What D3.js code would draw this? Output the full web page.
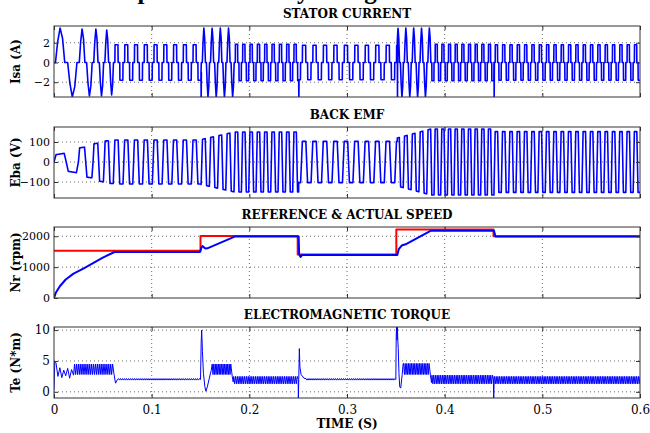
<!DOCTYPE html>
<html>
<head>
<meta charset="utf-8">
<script src="https://cdn.jsdelivr.net/npm/d3@7"></script>
<style>
  body { margin: 0; background: #fff; }
  svg { display: block; }
  .tick text { font-family: "DejaVu Serif", serif; font-size: 11px; fill: #000; }
  .ptitle { font-family: "DejaVu Serif", serif; font-weight: bold; font-size: 12px; text-anchor: middle; }
  .ylab { font-family: "DejaVu Serif", serif; font-weight: bold; font-size: 12px; text-anchor: middle; }
</style>
</head>
<body>
<svg id="chart" width="650" height="433"></svg>
<script>
// --- axes / text ---
const TIME_TICKS = [0, 0.1, 0.2, 0.3, 0.4, 0.5, 0.6];
const PANEL_TITLES = ["STATOR CURRENT", "BACK EMF", "REFERENCE & ACTUAL SPEED", "ELECTROMAGNETIC TORQUE"];
const PANEL_YLABELS = ["Isa (A)", "Eba (V)", "Nr (rpm)", "Te (N*m)"];
const Y_DOMAINS = [[-3.5, 3.7], [-180, 175], [0, 2300], [-1, 10.5]];
const Y_TICKS = [[-2, 0, 2], [-100, 0, 100], [0, 1000, 2000], [0, 5, 10]];

// --- electrical cycles (start, end, number of cycles) ---
const CYC_T0 = [0, 0.025, 0.040, 0.0515, 0.0615, 0.1505, 0.185, 0.2505, 0.3515, 0.386, 0.4505];
const CYC_T1 = [0.025, 0.040, 0.0515, 0.0615, 0.1505, 0.185, 0.2505, 0.3515, 0.386, 0.4505, 0.6];
const CYC_N  = [1, 1, 1, 1, 8.9, 4.1, 8.73, 9.43, 4.3, 9.46, 19.93];

// back emf amplitude at start / end of each cycle group (V)
const EMF_A0 = [35, 70, 90, 105, 110, 112, 150, 103, 120, 165, 152];
const EMF_A1 = [55, 80, 100, 108, 110, 150, 150, 103, 165, 165, 152];
// stator current peak per group (A) and whether it is an accelerating group
const CUR_A   = [3.5, 3.4, 3.4, 3.3, 1.8, 3.5, 1.85, 1.75, 3.5, 1.85, 1.8];
const CUR_ACC = [1, 1, 1, 1, 0, 1, 0, 0, 1, 0, 0];

// one cycle of each waveform (phase 0..1)
const EMF_SHAPE_P = [0, 1/12, 5/12, 7/12, 11/12, 1];
const EMF_SHAPE_V = [0, 1, 1, -1, -1, 0];
const CUR_SHAPE_P = [0, 0.083, 0.1, 0.4, 0.417, 0.583, 0.6, 0.9, 0.917, 1];
const CUR_SHAPE_V = [0, 0, 1, 1, 0, 0, -1, -1, 0, 0];
const CUR_ACC_P   = [0, 0.06, 0.15, 0.25, 0.35, 0.44, 0.56, 0.65, 0.75, 0.85, 0.94, 1];
const CUR_ACC_V   = [0, 0, 0.6, 1, 0.7, 0, 0, -0.6, -1, -0.7, 0, 0];

// current spikes at each speed step
const CUR_SPIKE_T = [0.1505, 0.2505, 0.3515, 0.4505];
const CUR_SPIKE_V = [-3.9, -3.9, -3.9, -3.9];

// --- speed (rpm) ---
const REF_T = [0, 0.150, 0.150, 0.2495, 0.2495, 0.3505, 0.3505, 0.450, 0.450, 0.6];
const REF_N = [1530, 1530, 2010, 2010, 1410, 1410, 2220, 2220, 2000, 2000];
const ACT_T = [0, 0.002, 0.006, 0.012, 0.020, 0.030, 0.040, 0.050, 0.062, 0.1495, 0.151, 0.152, 0.155, 0.157,
               0.185, 0.2505, 0.251, 0.2525, 0.254, 0.3515, 0.353, 0.356, 0.360, 0.386, 0.4505, 0.452, 0.6];
const ACT_N = [0, 180, 380, 600, 790, 950, 1130, 1310, 1490, 1490, 1640, 1680, 1600, 1610,
               1990, 1990, 1420, 1330, 1390, 1390, 1580, 1700, 1740, 2180, 2180, 1990, 1990];

// --- torque (N*m): single points and ripple bands ---
const TE_T = [0, 0.0008, 0.002, 0.004, 0.006, 0.008, 0.010, 0.012, 0.014, 0.016, 0.018, 0.020,
              0.0615, 0.063, 0.065,
              0.1500, 0.1507, 0.1512, 0.152, 0.153, 0.1545, 0.1555, 0.157, 0.159, 0.161,
              0.1825, 0.1835,
              0.2500, 0.2502, 0.2506, 0.2512, 0.2518, 0.253, 0.256,
              0.3500, 0.3504, 0.3508, 0.3512, 0.3516, 0.352, 0.3525, 0.3532, 0.354, 0.355, 0.3565, 0.3575,
              0.3855, 0.3865,
              0.4500, 0.4502, 0.4506];
const TE_V = [0.3, 4.9, 4.7, 2.5, 3.9, 2.3, 3.5, 2.6, 3.8, 2.2, 3.6, 2.7,
              2.8, 1.4, 2.0,
              2.0, 8.0, 10.0, 6.5, 3.0, 0.8, 0.1, 0.8, 2.2, 3.5,
              2.5, 1.6,
              2.0, -1.5, 2.0, 7.0, 4.0, 2.8, 2.2,
              2.0, 9.0, 10.7, 8.4, 10.7, 8.4, 7.0, 3.0, 0.8, 0.6, 2.8, 4.6,
              2.6, 1.5,
              2.0, -1.5, 1.8];
const RIP_T0 = [0.021, 0.066, 0.162, 0.184, 0.258, 0.358, 0.387, 0.451];
const RIP_T1 = [0.060, 0.149, 0.181, 0.249, 0.349, 0.384, 0.449, 0.600];
const RIP_LO = [2.8, 1.9, 2.8, 1.3, 1.9, 2.8, 1.3, 1.3];
const RIP_HI = [4.5, 2.15, 4.5, 2.5, 2.15, 4.6, 2.7, 2.5];
const RIP_N  = [20, 40, 12, 35, 45, 16, 35, 85];

// layout
const PLOT_L = 54, PLOT_R = 640;
const PANEL_TOP = [26, 127, 227, 327];
const PANEL_H = 71;

const svg = d3.select("#chart");
const x = d3.scaleLinear().domain([0, 0.6]).range([0, PLOT_R - PLOT_L]);

// build waveforms
const emfShape = d3.scaleLinear().domain(EMF_SHAPE_P).range(EMF_SHAPE_V);
const curShape = d3.scaleLinear().domain(CUR_SHAPE_P).range(CUR_SHAPE_V);
const curAcc = d3.scaleLinear().domain(CUR_ACC_P).range(CUR_ACC_V);
const phase0 = [0];
CYC_N.forEach((n, i) => phase0.push(phase0[i] + n));

const DT = 0.00004;
const times = d3.range(0, 0.6 + DT / 2, DT);
const emfData = [], curData = [];
times.forEach(t => {
  let i = d3.bisectRight(CYC_T0, t) - 1;
  if (i < 0) i = 0;
  const f = (t - CYC_T0[i]) / (CYC_T1[i] - CYC_T0[i]);
  const ph = phase0[i] + f * CYC_N[i];
  const fr = ph - Math.floor(ph);
  const a = EMF_A0[i] + (EMF_A1[i] - EMF_A0[i]) * f;
  emfData.push([t, emfShape(fr) * a]);
  curData.push([t, (CUR_ACC[i] ? curAcc(fr) : curShape(fr)) * CUR_A[i]]);
});
CUR_SPIKE_T.forEach((ts, k) => {
  const j = d3.bisectLeft(curData.map(d => d[0]), ts);
  curData.splice(j, 0, [ts, curData[j][1]], [ts + 0.0002, CUR_SPIKE_V[k]], [ts + 0.0004, curData[j][1]]);
});

const teData = TE_T.map((t, i) => [t, TE_V[i]]);
RIP_T0.forEach((t0, k) => {
  const n = RIP_N[k], step = (RIP_T1[k] - t0) / (2 * n);
  for (let j = 0; j <= 2 * n; j++) {
    teData.push([t0 + j * step, j % 2 ? RIP_LO[k] : RIP_HI[k]]);
  }
});
teData.sort((a, b) => a[0] - b[0]);

const refData = REF_T.map((t, i) => [t, REF_N[i]]);
const actData = ACT_T.map((t, i) => [t, ACT_N[i]]);

const series = [
  [{ data: curData, color: "#0000ff", w: 1.6 }],
  [{ data: emfData, color: "#0000ff", w: 1.6 }],
  [{ data: refData, color: "#ff0000", w: 2 }, { data: actData, color: "#0000ff", w: 2 }],
  [{ data: teData, color: "#0000ff", w: 1 }]
];

// big figure title (cut off at the top, as in the source figure)
svg.append("text")
  .attr("x", 325).attr("y", -1)
  .attr("text-anchor", "middle")
  .style("font-family", "'Liberation Serif', serif")
  .style("font-weight", "bold")
  .style("font-size", "25px")
  .text("Speed Control by Using PI Controller");

PANEL_TOP.forEach((top, p) => {
  const y = d3.scaleLinear().domain(Y_DOMAINS[p]).range([PANEL_H, 0]);
  const g = svg.append("g").attr("transform", "translate(" + PLOT_L + "," + top + ")");
  const pw = PLOT_R - PLOT_L;

  g.append("clipPath").attr("id", "clip" + p)
    .append("rect").attr("width", pw).attr("height", PANEL_H);

  // grid
  g.selectAll(".gx").data(TIME_TICKS.slice(1, -1)).enter().append("line")
    .attr("x1", d => x(d)).attr("x2", d => x(d)).attr("y1", 0).attr("y2", PANEL_H)
    .attr("stroke", "#444").attr("stroke-width", 0.8).attr("stroke-dasharray", "1,3");
  g.selectAll(".gy").data(Y_TICKS[p].filter(v => y(v) > 1 && y(v) < PANEL_H - 1)).enter().append("line")
    .attr("x1", 0).attr("x2", pw).attr("y1", d => y(d)).attr("y2", d => y(d))
    .attr("stroke", "#444").attr("stroke-width", 0.8).attr("stroke-dasharray", "1,3");

  // traces
  const line = d3.line().x(d => x(d[0])).y(d => y(d[1]));
  series[p].forEach(s => {
    g.append("path").datum(s.data)
      .attr("clip-path", "url(#clip" + p + ")")
      .attr("fill", "none").attr("stroke", s.color).attr("stroke-width", s.w)
      .attr("stroke-linejoin", "round")
      .attr("d", line);
  });

  // axes with inward ticks
  g.append("g").call(d3.axisLeft(y).tickValues(Y_TICKS[p]).tickFormat(d3.format("d"))
    .tickSizeInner(-4).tickSizeOuter(0).tickPadding(4));
  g.append("g").attr("transform", "translate(" + pw + ",0)")
    .call(d3.axisRight(y).tickValues(Y_TICKS[p]).tickSizeInner(-4).tickSizeOuter(0).tickFormat(""));
  g.append("g").attr("transform", "translate(0," + PANEL_H + ")")
    .call(d3.axisBottom(x).tickValues(TIME_TICKS).tickSizeInner(-4).tickSizeOuter(0).tickPadding(7)
      .tickFormat(p === 3 ? d3.format("") : ""));
  g.append("g").call(d3.axisTop(x).tickValues(TIME_TICKS).tickSizeInner(-4).tickSizeOuter(0).tickFormat(""));
  g.selectAll(".domain").remove();
  g.selectAll(".tick line").attr("stroke", "#333");
  if (p === 3) g.selectAll(".tick text").style("font-size", "12px");

  // box
  g.append("rect").attr("width", pw).attr("height", PANEL_H)
    .attr("fill", "none").attr("stroke", "#333").attr("stroke-width", 1);

  // titles
  svg.append("text").attr("class", "ptitle")
    .attr("x", PLOT_L + pw / 2).attr("y", top - 8)
    .text(PANEL_TITLES[p]);
  svg.append("text").attr("class", "ylab")
    .attr("transform", "translate(20," + (top + PANEL_H / 2) + ") rotate(-90)")
    .text(PANEL_YLABELS[p]);
});

svg.append("text").attr("class", "ylab")
  .attr("x", (PLOT_L + PLOT_R) / 2).attr("y", 428)
  .text("TIME (S)");
</script>
</body>
</html>
